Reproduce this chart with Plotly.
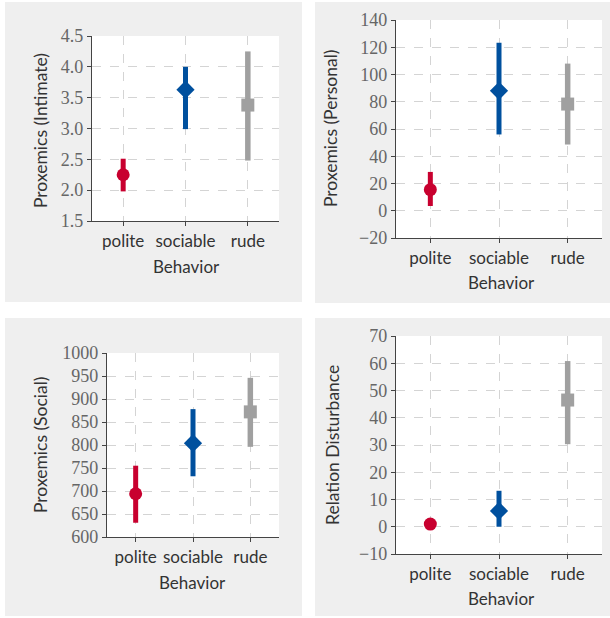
import plotly.graph_objects as go

# ---------------- data ----------------
categories = ["polite", "sociable", "rude"]

intimate_mean = [2.25, 3.63, 3.38]
intimate_low = [1.98, 2.99, 2.48]
intimate_high = [2.51, 4.0, 4.25]

personal_mean = [15.5, 88, 78.3]
personal_low = [3.5, 56, 48.6]
personal_high = [28.5, 123.3, 108]

social_mean = [694, 804, 872]
social_low = [631, 732, 796]
social_high = [755, 878, 946]

disturb_mean = [1.0, 5.8, 46.5]
disturb_low = [1.0, 0.0, 30.3]
disturb_high = [1.0, 13.2, 60.8]

y_titles = ["Proxemics (Intimate)", "Proxemics (Personal)", "Proxemics (Social)", "Relation Disturbance"]
x_title = "Behavior"

# ---------------- styles ----------------
W, H = 610, 618
colors = ["#C8002F", "#00509E", "#A0A0A0"]
symbols = ["circle", "diamond", "square"]
msizes = [13, 14, 13]
lwidths = [5, 5, 5.5]
SANS = "Lato, Open Sans, sans-serif"
SERIF = "Liberation Serif, DejaVu Serif, serif"

panels = [
    dict(mean=intimate_mean, low=intimate_low, high=intimate_high, rng=[1.5, 4.5], dtick=0.5, fmt=".1f",
         plot=(92, 279, 36, 221), bg=(5, 302, 2, 302), ytitle=(40, 131), xtitle=(186, 266)),
    dict(mean=personal_mean, low=personal_low, high=personal_high, rng=[-20, 140], dtick=20, fmt="d",
         plot=(396, 602, 20, 238), bg=(315, 610, 2, 303), ytitle=(331, 128), xtitle=(501, 283)),
    dict(mean=social_mean, low=social_low, high=social_high, rng=[600, 1000], dtick=50, fmt="d",
         plot=(107, 279, 353, 537), bg=(5, 302, 318, 616), ytitle=(40, 445), xtitle=(192, 582)),
    dict(mean=disturb_mean, low=disturb_low, high=disturb_high, rng=[-10, 70], dtick=10, fmt="d",
         plot=(396, 602, 336, 554), bg=(315, 610, 318, 616), ytitle=(332, 445), xtitle=(501, 598)),
]

fig = go.Figure()
shapes = []
annotations = []
layout_axes = {}

for i, p in enumerate(panels):
    n = "" if i == 0 else str(i + 1)
    xa, ya = "x" + n, "y" + n
    x0, x1, y0, y1 = p["plot"]
    layout_axes["xaxis" + n] = dict(
        domain=[x0 / W, x1 / W], anchor=ya, type="category", range=[-0.5, 2.5],
        categoryorder="array", categoryarray=categories, automargin=False,
        showline=True, linecolor="#444444", linewidth=1.3, mirror=False,
        ticks="outside", ticklen=4, tickcolor="#444444", tickwidth=1.3,
        showgrid=True, gridcolor="#D4D4D4", griddash="dash", gridwidth=1,
        zeroline=False, fixedrange=True,
        tickfont=dict(family=SANS, size=17, color="#333333"),
    )
    layout_axes["yaxis" + n] = dict(
        domain=[1 - y1 / H, 1 - y0 / H], anchor=xa, range=p["rng"], dtick=p["dtick"],
        tick0=p["rng"][0], tickformat=p["fmt"], automargin=False,
        showline=True, linecolor="#444444", linewidth=1.3, mirror=False,
        ticks="outside", ticklen=4, tickcolor="#444444", tickwidth=1.3,
        showgrid=True, gridcolor="#D4D4D4", griddash="dash", gridwidth=1,
        zeroline=False, fixedrange=True,
        tickfont=dict(family=SERIF, size=18, color="#666666"),
    )
    bx0, bx1, by0, by1 = p["bg"]
    shapes.append(dict(type="rect", xref="paper", yref="paper", x0=bx0 / W, x1=bx1 / W,
                       y0=1 - by1 / H, y1=1 - by0 / H, fillcolor="#EFEFEF", line=dict(width=0), layer="below"))
    shapes.append(dict(type="rect", xref="paper", yref="paper", x0=x0 / W, x1=x1 / W,
                       y0=1 - y1 / H, y1=1 - y0 / H, fillcolor="#FFFFFF", line=dict(width=0), layer="below"))
    tx, ty = p["ytitle"]
    annotations.append(dict(text=y_titles[i], xref="paper", yref="paper", x=tx / W, y=1 - ty / H,
                            textangle=-90, showarrow=False, xanchor="center", yanchor="middle",
                            font=dict(family=SANS, size=17.5, color="#333333")))
    tx, ty = p["xtitle"]
    annotations.append(dict(text=x_title, xref="paper", yref="paper", x=tx / W, y=1 - ty / H,
                            showarrow=False, xanchor="center", yanchor="middle",
                            font=dict(family=SANS, size=17, color="#333333")))
    for j, c in enumerate(categories):
        if p["high"][j] > p["low"][j]:
            fig.add_trace(go.Scatter(x=[c, c], y=[p["low"][j], p["high"][j]], mode="lines",
                                     line=dict(color=colors[j], width=lwidths[j]),
                                     xaxis=xa, yaxis=ya, showlegend=False, hoverinfo="skip"))
        fig.add_trace(go.Scatter(x=[c], y=[p["mean"][j]], mode="markers",
                                 marker=dict(color=colors[j], symbol=symbols[j], size=msizes[j],
                                             line=dict(width=0)),
                                 xaxis=xa, yaxis=ya, showlegend=False, cliponaxis=False))

fig.update_layout(
    template="none",
    width=W, height=H, autosize=False,
    margin=dict(l=0, r=0, t=0, b=0, pad=0),
    paper_bgcolor="white", plot_bgcolor="rgba(0,0,0,0)",
    shapes=shapes, annotations=annotations, **layout_axes,
)

fig.write_html("out.html", config={"displayModeBar": False},
               post_script="document.body.style.margin='0';document.body.style.overflow='hidden';")
